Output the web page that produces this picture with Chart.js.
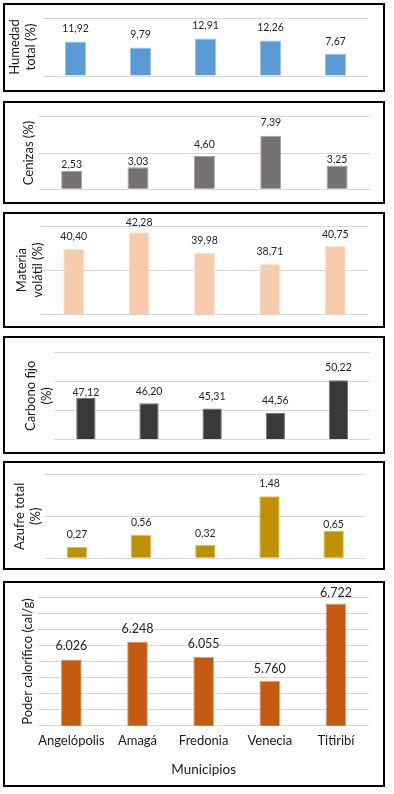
<!DOCTYPE html>
<html><head><meta charset="utf-8">
<script src="https://cdn.jsdelivr.net/npm/chart.js@4.4.1/dist/chart.umd.min.js"></script>
<style>
html,body{margin:0;padding:0;background:#fff;}
body{width:394px;height:794px;position:relative;overflow:hidden;}
.box{position:absolute;left:3px;width:382px;border:2px solid #000;box-sizing:border-box;background:#fff;}
.box canvas{display:block;}
</style></head><body>
<script>
// ---- data ----
const categories = ['Angelópolis', 'Amagá', 'Fredonia', 'Venecia', 'Titiribí'];
const humedadTotal = [11.92, 9.79, 12.91, 12.26, 7.67];
const cenizas = [2.53, 3.03, 4.60, 7.39, 3.25];
const materiaVolatil = [40.40, 42.28, 39.98, 38.71, 40.75];
const carbonoFijo = [47.12, 46.20, 45.31, 44.56, 50.22];
const azufreTotal = [0.27, 0.56, 0.32, 1.48, 0.65];
const poderCalorifico = [6026, 6248, 6055, 5760, 6722];
const xAxisTitle = 'Municipios';

// ---- formatting ----
const fmtDec = v => v.toFixed(2).replace('.', ',');
const fmtThousands = v => { const s = String(Math.round(v)); return s.slice(0, -3) + '.' + s.slice(-3); };

Chart.defaults.font.family = 'Lato, "Open Sans", sans-serif';
Chart.defaults.color = '#1a1a1a';

const panels = [
  { data: humedadTotal, title: ['Humedad', 'total (%)'], color: '#5B9BD5', edge: '#9DC3E6',
    min: 0, max: 20, step: 20, box: [3, 89], plot: [43, 368, 18, 76], titlePad: 2, bar: 0.323,
    lift: [12.5, 12.5, 12.5, 12.5, 12.5], fmt: fmtDec, labelSize: 10.5 },
  { data: cenizas, title: 'Cenizas (%)', color: '#767171', edge: '#A6A2A2',
    min: 0, max: 10, step: 5, box: [101, 103], plot: [38.5, 370.3, 116.7, 189.3], titlePad: 16, bar: 0.317,
    lift: [6, 6, 11, 12.7, 6], fmt: fmtDec, labelSize: 10.5 },
  { data: materiaVolatil, title: ['Materia', 'volátil (%)'], color: '#F8CBAD', edge: '#FBE3D3',
    min: 33, max: 43, step: 5, box: [212, 116], plot: [41, 368, 226, 314.3], titlePad: 8.7, bar: 0.32,
    lift: [12, 10, 12, 12, 11.7], fmt: fmtDec, labelSize: 10.5 },
  { data: carbonoFijo, title: ['Carbono fijo', '(%)'], color: '#3B3838', edge: '#767171',
    min: 40, max: 55, step: 5, box: [336, 118], plot: [54.3, 370, 352.7, 439], titlePad: 17.5, bar: 0.306,
    lift: [5, 11.3, 12, 12, 13], fmt: fmtDec, labelSize: 10.5 },
  { data: azufreTotal, title: ['Azufre total', '(%)'], color: '#BF9000', edge: '#D9BD66',
    min: 0, max: 2, step: 1, box: [461, 109], plot: [45, 365.7, 474.3, 558.3], titlePad: 6.5, bar: 0.318,
    lift: [12.7, 11.7, 11.7, 12.4, 6.3], fmt: fmtDec, labelSize: 10.5 },
  { data: poderCalorifico, title: 'Poder calorífico (cal/g)', color: '#C55A11', edge: '#E0A47C',
    min: 5200, max: 6800, step: 200, box: [581, 206], plot: [38.3, 369, 597.3, 725.7], titlePad: 15.3, bar: 0.313,
    lift: [13.3, 13, 13, 12, 10.6], fmt: fmtThousands, labelSize: 12.5, showX: true }
];

panels.forEach((p, idx) => {
  const div = document.createElement('div');
  div.className = 'box';
  div.style.top = p.box[0] + 'px';
  div.style.height = p.box[1] + 'px';
  document.body.appendChild(div);
  const cw = 378, ch = p.box[1] - 4;
  const cLeft = 5, cTop = p.box[0] + 2;
  const canvas = document.createElement('canvas');
  canvas.width = cw; canvas.height = ch;
  canvas.style.width = cw + 'px'; canvas.style.height = ch + 'px';
  div.appendChild(canvas);

  const [pl, pr, pt, pb] = p.plot;
  const yWidth = pl - cLeft;
  const xHeight = (cTop + ch) - pb;

  const labelPlugin = {
    id: 'valueLabels' + idx,
    afterDatasetsDraw(chart) {
      const ctx = chart.ctx;
      const meta = chart.getDatasetMeta(0);
      ctx.save();
      ctx.font = p.labelSize + 'px Lato, "Open Sans", sans-serif';
      ctx.fillStyle = '#262626';
      ctx.textAlign = 'center';
      ctx.textBaseline = 'middle';
      meta.data.forEach((el, i) => {
        ctx.fillText(p.fmt(chart.data.datasets[0].data[i]), el.x, el.y - p.lift[i]);
      });
      ctx.restore();
    }
  };

  new Chart(canvas, {
    type: 'bar',
    data: {
      labels: categories,
      datasets: [{
        data: p.data,
        backgroundColor: p.color,
        borderColor: p.edge,
        borderWidth: 1,
        categoryPercentage: 1,
        barPercentage: p.bar
      }]
    },
    options: {
      responsive: false,
      animation: false,
      events: [],
      layout: { padding: { left: 0, top: pt - cTop, right: (cLeft + cw) - pr, bottom: 0 } },
      plugins: { legend: { display: false }, tooltip: { enabled: false } },
      scales: {
        x: {
          grid: { display: false, drawTicks: false },
          border: { display: false },
          ticks: { display: !!p.showX, padding: 7.5, font: { size: 13 }, color: '#1a1a1a', maxRotation: 0, autoSkip: false },
          title: { display: !!p.showX, text: xAxisTitle, font: { size: 13.5 }, color: '#1a1a1a', padding: { top: 0, bottom: 7.6 } },
          afterFit: s => { s.height = xHeight; }
        },
        y: {
          min: p.min, max: p.max,
          ticks: { display: false, stepSize: p.step },
          grid: { color: '#D9D9D9', lineWidth: 1, drawTicks: false },
          border: { display: false },
          title: { display: true, text: p.title, font: { size: 13, lineHeight: 1.23 }, color: '#1a1a1a', padding: { top: p.titlePad, bottom: 0 } },
          afterFit: s => { s.width = yWidth; }
        }
      }
    },
    plugins: [labelPlugin]
  });
});
</script>
</body></html>
